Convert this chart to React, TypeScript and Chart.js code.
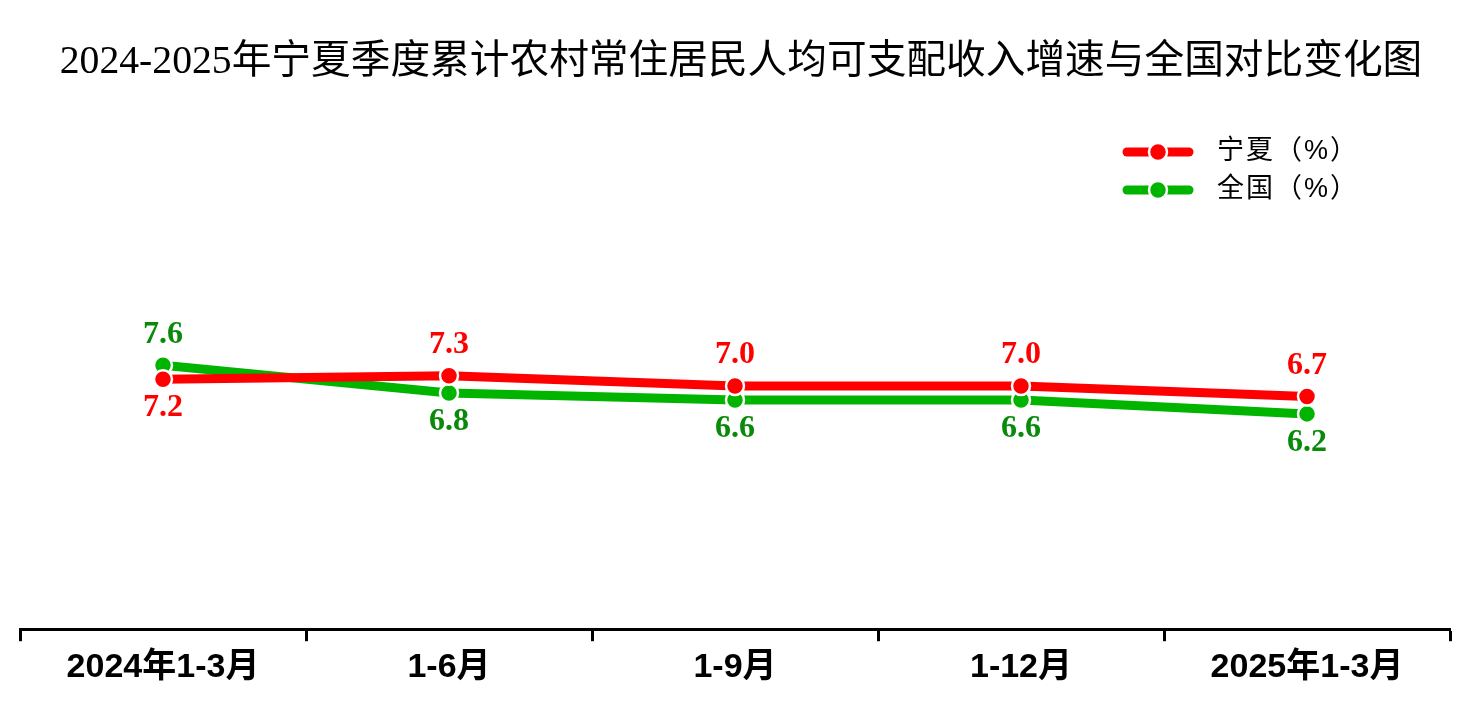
import React, { useEffect, useRef } from "react";
import { Chart, registerables } from "chart.js";

Chart.register(...registerables);

const titleText = "2024-2025年宁夏季度累计农村常住居民人均可支配收入增速与全国对比变化图";
const categories = ["2024年1-3月", "1-6月", "1-9月", "1-12月", "2025年1-3月"];
const ningxia = [7.2, 7.3, 7.0, 7.0, 6.7];
const national = [7.6, 6.8, 6.6, 6.6, 6.2];
const seriesNames = ["宁夏（%）", "全国（%）"];
const lineColors = ["#ff0000", "#00b400"];
const labelColors = ["#ff0000", "#0a8a0a"];

const valueLabels = {
  id: "valueLabels",
  afterDatasetsDraw(chart: any) {
    const ctx = chart.ctx;
    ctx.save();
    ctx.font = "bold 32px 'Liberation Serif', 'Times New Roman', serif";
    ctx.textAlign = "center";
    ctx.textBaseline = "middle";
    chart.data.datasets.forEach((ds: any, di: number) => {
      const meta = chart.getDatasetMeta(di);
      meta.data.forEach((pt: any, i: number) => {
        const v = ds.data[i] as number;
        const others = chart.data.datasets
          .filter((_: any, j: number) => j !== di)
          .map((d: any) => d.data[i] as number);
        const above = others.every((o: number) => v >= o);
        ctx.fillStyle = labelColors[di];
        ctx.fillText(v.toFixed(1), pt.x, pt.y + (above ? -31 : 29));
      });
    });
    ctx.restore();
  },
};

const titleAndLegend = {
  id: "titleAndLegend",
  afterDraw(chart: any) {
    const ctx = chart.ctx;
    ctx.save();
    // title centred on the whole canvas
    ctx.fillStyle = "#000000";
    ctx.font = "39.7px 'Liberation Serif', 'Noto Sans CJK SC', serif";
    ctx.textAlign = "center";
    ctx.textBaseline = "middle";
    ctx.fillText(titleText, chart.width / 2, 63);

    const right = chart.chartArea.right;
    const cx = right - 292;
    const rowY = [152, 190];
    chart.data.datasets.forEach((ds: any, di: number) => {
      const y = rowY[di];
      ctx.strokeStyle = ds.borderColor;
      ctx.lineWidth = 9;
      ctx.lineCap = "round";
      ctx.beginPath();
      ctx.moveTo(cx - 31, y);
      ctx.lineTo(cx + 31, y);
      ctx.stroke();
      ctx.beginPath();
      ctx.arc(cx, y, 9, 0, Math.PI * 2);
      ctx.fillStyle = ds.borderColor;
      ctx.fill();
      ctx.lineWidth = 2.5;
      ctx.strokeStyle = "#ffffff";
      ctx.stroke();
      ctx.fillStyle = "#000000";
      ctx.font = "27px 'Liberation Sans', 'Noto Sans CJK SC', sans-serif";
      (ctx as any).letterSpacing = "2px";
      ctx.textAlign = "left";
      ctx.textBaseline = "middle";
      ctx.fillText(ds.label, cx + 59, y);
      (ctx as any).letterSpacing = "0px";
    });
    ctx.restore();
  },
};

export default function App() {
  const canvasRef = useRef<HTMLCanvasElement | null>(null);

  useEffect(() => {
    if (!canvasRef.current) return;
    const chart = new Chart(canvasRef.current, {
      type: "line",
      data: {
        labels: categories,
        datasets: [
          {
            label: seriesNames[0],
            data: ningxia,
            borderColor: lineColors[0],
            backgroundColor: lineColors[0],
            borderWidth: 9,
            pointRadius: 9,
            pointBorderWidth: 2.5,
            pointBorderColor: "#ffffff",
            pointBackgroundColor: lineColors[0],
            tension: 0,
          },
          {
            label: seriesNames[1],
            data: national,
            borderColor: lineColors[1],
            backgroundColor: lineColors[1],
            borderWidth: 9,
            pointRadius: 9,
            pointBorderWidth: 2.5,
            pointBorderColor: "#ffffff",
            pointBackgroundColor: lineColors[1],
            tension: 0,
          },
        ],
      },
      options: {
        responsive: false,
        animation: false,
        layout: { padding: { left: 20, right: 32, top: 143, bottom: 34 } },
        plugins: {
          legend: { display: false },
          tooltip: { enabled: false },
          title: { display: false },
        },
        scales: {
          x: {
            offset: true,
            grid: {
              display: true,
              offset: true,
              drawOnChartArea: false,
              drawTicks: true,
              tickLength: 12,
              tickWidth: 3,
              tickColor: "#000000",
            },
            border: { display: true, color: "#000000", width: 3 },
            ticks: {
              color: "#000000",
              padding: 6,
              maxRotation: 0,
              font: { family: "'Liberation Sans', 'Noto Sans CJK SC', sans-serif", size: 34, weight: "bold" },
            },
          },
          y: {
            display: false,
            min: 0,
            max: 14,
          },
        },
      },
      plugins: [valueLabels, titleAndLegend],
    });
    return () => chart.destroy();
  }, []);

  return (
    <div style={{ position: "fixed", left: 0, top: 0, width: 1482, height: 728, background: "#ffffff" }}>
      <canvas ref={canvasRef} width={1482} height={728} />
    </div>
  );
}
